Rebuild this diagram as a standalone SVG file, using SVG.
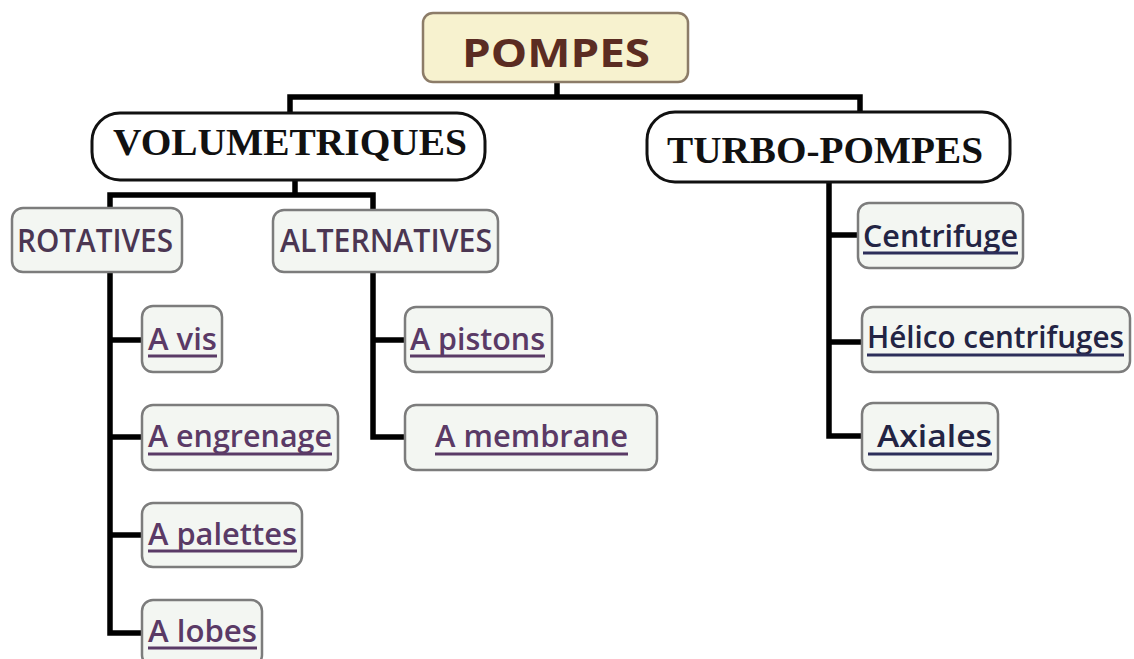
<svg xmlns="http://www.w3.org/2000/svg" width="1134" height="659" viewBox="0 0 1134 659">
<style>
.bg{fill:#ffffff}
.root rect{fill:#f7f2cf;stroke:#8c7c68;stroke-width:2.5}
.root text{font-family:"Open Sans","Noto Sans",sans-serif;font-weight:bold;font-size:40px;fill:#5b2c22}
.big rect{fill:#ffffff;stroke:#111;stroke-width:3}
.big text{font-family:"Liberation Serif","Times New Roman",serif;font-weight:bold;font-size:38px;fill:#111}
.mid rect{fill:#f3f6f2;stroke:#7c7c7c;stroke-width:2.5}
.mid text{font-family:"Open Sans","Noto Sans",sans-serif;font-weight:600;font-size:32px;fill:#4b3652}
.leaf rect{fill:#f3f6f2;stroke:#7c7c7c;stroke-width:2.5}
.leaf text{font-family:"Open Sans","Noto Sans",sans-serif;font-weight:600;font-size:31px;fill:#5a3a66}
.leaf line{stroke:#5a3a66;stroke-width:3}
.leaf.blue text{fill:#232444}
.leaf.blue line{stroke:#2c2e5a}
.conn path{fill:none;stroke:#000;stroke-width:5.5;stroke-linejoin:miter}
</style>
<rect class="bg" x="0" y="0" width="1134" height="659"/>

<g class="conn" id="connectors">
<path d="M557 82 V97 M290 112 V97 H860 V112"/>
<path d="M295 180 V195 M110 208 V195 H373 V210"/>
<path d="M110 272 V633 H142 M110 340 H142 M110 437 H142 M110 535 H142"/>
<path d="M373 272 V437 H405 M373 340 H405"/>
<path d="M829 182 V436 H861 M829 235 H858 M829 342 H861"/>
</g>

<g id="pompes" class="root">
<rect x="423" y="13" width="265" height="69" rx="10"/>
<text x="556" y="67" text-anchor="middle" textLength="188" lengthAdjust="spacingAndGlyphs">POMPES</text>
</g>

<g id="volumetriques" class="big">
<rect x="92" y="113" width="393" height="67" rx="28"/>
<text x="290" y="155" text-anchor="middle" textLength="354" lengthAdjust="spacingAndGlyphs">VOLUMETRIQUES</text>
</g>

<g id="turbo-pompes" class="big">
<rect x="647" y="112" width="363" height="70" rx="28"/>
<text x="825" y="163" text-anchor="middle" textLength="316" lengthAdjust="spacingAndGlyphs">TURBO-POMPES</text>
</g>

<g id="rotatives" class="mid">
<rect x="12" y="208" width="170" height="64" rx="11"/>
<text x="17" y="252" textLength="156" lengthAdjust="spacingAndGlyphs">ROTATIVES</text>
</g>

<g id="alternatives" class="mid">
<rect x="273" y="210" width="225" height="62" rx="11"/>
<text x="280" y="252" textLength="212" lengthAdjust="spacingAndGlyphs">ALTERNATIVES</text>
</g>

<g id="a-vis" class="leaf">
<rect x="142" y="306" width="80" height="66" rx="11"/>
<text x="148" y="350" textLength="69" lengthAdjust="spacingAndGlyphs">A vis</text>
<line x1="148" y1="356" x2="217" y2="356"/>
</g>

<g id="a-engrenage" class="leaf">
<rect x="142" y="405" width="196" height="65" rx="11"/>
<text x="148" y="447" textLength="184" lengthAdjust="spacingAndGlyphs">A engrenage</text>
<line x1="148" y1="454" x2="332" y2="454"/>
</g>

<g id="a-palettes" class="leaf">
<rect x="142" y="503" width="160" height="64" rx="11"/>
<text x="148" y="545" textLength="149" lengthAdjust="spacingAndGlyphs">A palettes</text>
<line x1="148" y1="551" x2="297" y2="551"/>
</g>

<g id="a-lobes" class="leaf">
<rect x="142" y="600" width="120" height="66" rx="11"/>
<text x="148" y="642" textLength="109" lengthAdjust="spacingAndGlyphs">A lobes</text>
<line x1="148" y1="648" x2="257" y2="648"/>
</g>

<g id="a-pistons" class="leaf">
<rect x="405" y="307" width="147" height="65" rx="11"/>
<text x="410" y="350" textLength="135" lengthAdjust="spacingAndGlyphs">A pistons</text>
<line x1="410" y1="356" x2="545" y2="356"/>
</g>

<g id="a-membrane" class="leaf">
<rect x="405" y="405" width="252" height="65" rx="11"/>
<text x="435" y="447" textLength="193" lengthAdjust="spacingAndGlyphs">A membrane</text>
<line x1="435" y1="454" x2="628" y2="454"/>
</g>

<g id="centrifuge" class="leaf blue">
<rect x="858" y="203" width="165" height="65" rx="11"/>
<text x="863" y="247" textLength="155" lengthAdjust="spacingAndGlyphs">Centrifuge</text>
<line x1="863" y1="253" x2="1018" y2="253"/>
</g>

<g id="helico-centrifuges" class="leaf blue">
<rect x="862" y="307" width="268" height="65" rx="11"/>
<text x="867" y="348" textLength="257" lengthAdjust="spacingAndGlyphs">Hélico centrifuges</text>
<line x1="867" y1="355" x2="1124" y2="355"/>
</g>

<g id="axiales" class="leaf blue">
<rect x="862" y="403" width="136" height="67" rx="11"/>
<text x="877" y="447" textLength="115" lengthAdjust="spacingAndGlyphs">Axiales</text>
<line x1="868" y1="454" x2="992" y2="454"/>
</g>
</svg>
